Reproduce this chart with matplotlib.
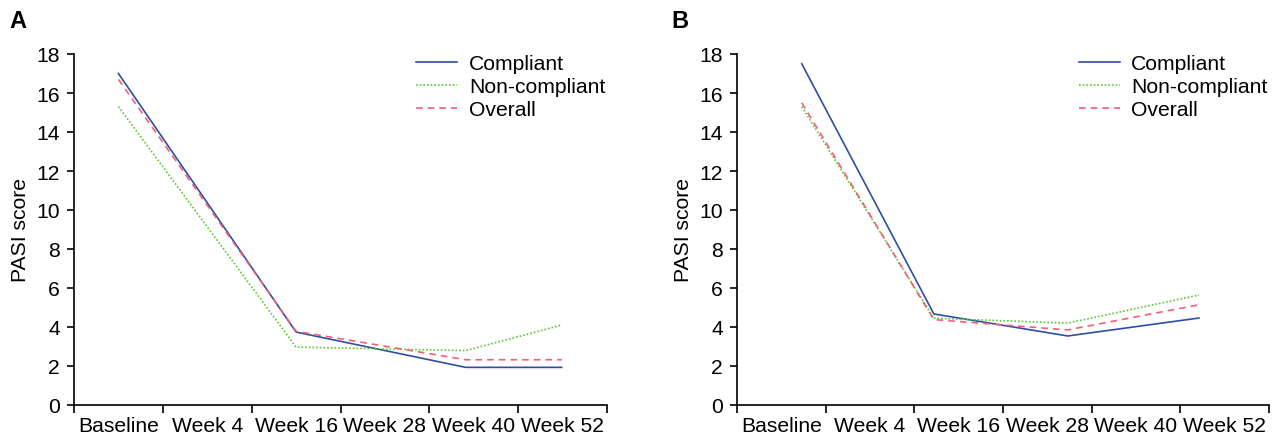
import matplotlib
matplotlib.use("Agg")
import matplotlib.pyplot as plt
import numpy as np

plt.rcParams['font.family'] = ['Liberation Sans', 'DejaVu Sans']

tick_labels = ["Baseline", "Week 4", "Week 16", "Week 28", "Week 40", "Week 52"]
series_names = ["Compliant", "Non-compliant", "Overall"]

# Panel A: x positions (category units) and values
a_x = [0.5, 2.5, 4.41, 5.49]
a_compliant = [17.0, 3.74, 1.93, 1.93]
a_noncompliant = [15.3, 2.97, 2.79, 4.1]
a_overall = [16.7, 3.78, 2.32, 2.32]

# Panel B
b_x = [0.73, 2.22, 3.73, 5.21]
b_compliant = [17.5, 4.67, 3.54, 4.46]
b_noncompliant = [15.3, 4.45, 4.2, 5.64]
b_overall = [15.5, 4.38, 3.85, 5.14]

colors = ["#2f4ea0", "#5cc832", "#f0607a"]
styles = ["-", (0, (1, 1.2)), (0, (4, 3))]

fig = plt.figure(figsize=(12.8, 4.39), dpi=100)
ax_a = fig.add_axes([74/1280, 1-406/439, 533/1280, 351/439])
ax_b = fig.add_axes([737/1280, 1-406/439, 532/1280, 351/439])

FS = 15.2

def draw(ax, xs, ys_list, letter, lx):
    for ys, c, ls, name in zip(ys_list, colors, styles, series_names):
        ax.plot(xs, ys, color=c, linestyle=ls, lw=1.2, label=name)
    ax.set_xlim(0, 6)
    ax.set_ylim(0, 18)
    ax.set_yticks(np.arange(0, 19, 2))
    ax.set_xticks(np.arange(0, 7))
    ax.set_xticklabels([])
    ax.set_xticks(np.arange(0.5, 6, 1), minor=True)
    ax.set_xticklabels(tick_labels, minor=True, fontsize=FS)
    ax.tick_params(axis='x', which='major', length=6, width=1.2, direction='out')
    ax.tick_params(axis='x', which='minor', length=0, pad=8)
    ax.tick_params(axis='y', length=5, width=1.2, direction='out', labelsize=FS, pad=5)
    for s in ['top', 'right']:
        ax.spines[s].set_visible(False)
    for s in ['left', 'bottom']:
        ax.spines[s].set_linewidth(1.2)
    ax.set_ylabel("PASI score", fontsize=FS, labelpad=5)
    ax.legend(loc='upper left', bbox_to_anchor=(0.642, 1.0), frameon=False,
              fontsize=FS, handlelength=1.95, handletextpad=0.55,
              labelspacing=0.2, borderpad=0, borderaxespad=0)
    fig.text(lx, 1-22/439, letter, fontsize=17, fontweight='bold', va='center', ha='left')

draw(ax_a, a_x, [a_compliant, a_noncompliant, a_overall], "A", 9/1280)
draw(ax_b, b_x, [b_compliant, b_noncompliant, b_overall], "B", 671/1280)

fig.savefig("out.png", dpi=100)
